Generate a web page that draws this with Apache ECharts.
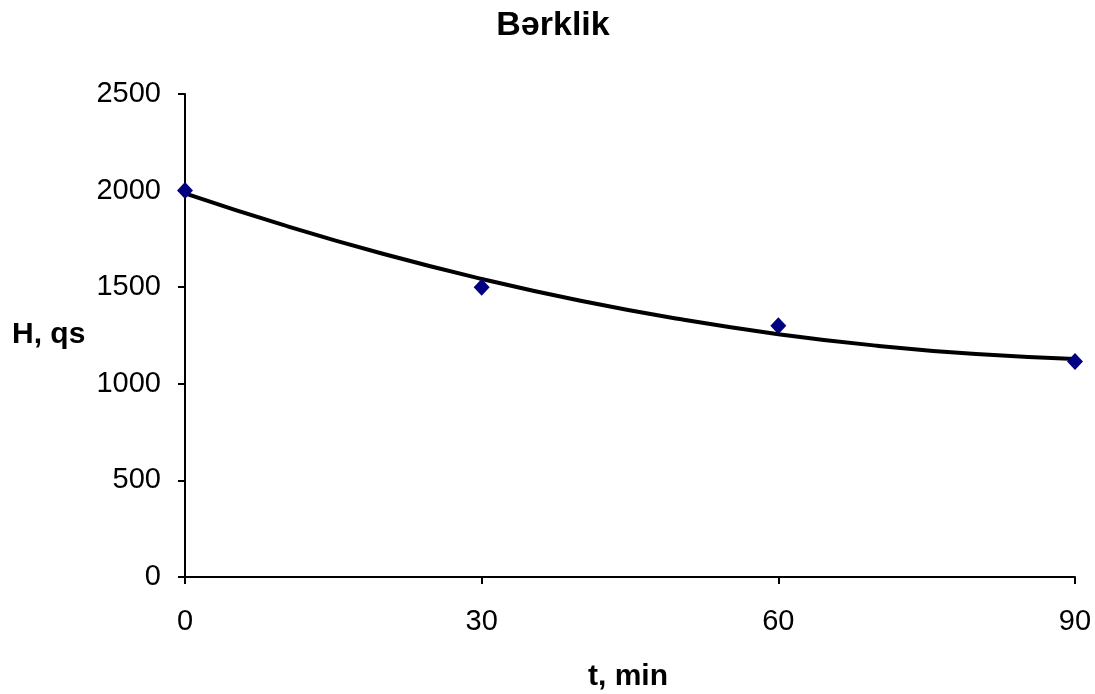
<!DOCTYPE html>
<html>
<head>
<meta charset="utf-8">
<script src="https://cdn.jsdelivr.net/npm/echarts@6/dist/echarts.min.js"></script>
<style>
html,body{margin:0;padding:0;background:#fff;}
#chart{width:1095px;height:694px;}
</style>
</head>
<body>
<div id="chart"></div>
<script>
const titleText = 'Bərklik';
const xLabel = 't, min';
const yLabel = 'H, qs';
const measuredT = [0, 30, 60, 90];
const measuredH = [2000, 1500, 1300, 1115];
const trendT = [0, 10, 20, 30, 40, 50, 60, 70, 80, 90];
const trendH = [1986, 1821, 1673, 1543, 1430, 1335, 1257, 1197, 1154, 1129];
const yTicks = [0, 500, 1000, 1500, 2000, 2500];
const xTicks = [0, 30, 60, 90];

const chart = echarts.init(document.getElementById('chart'));
const font = '"Liberation Sans", Arial, sans-serif';
chart.setOption({
  animation: false,
  backgroundColor: '#fff',
  grid: {left: 185, right: 20, top: 94, bottom: 117},
  xAxis: {
    type: 'value', min: 0, max: 90, interval: 30,
    axisLine: {show: true, lineStyle: {color: '#000', width: 2}},
    axisTick: {show: true, inside: false, length: 7, lineStyle: {color: '#000', width: 2}},
    axisLabel: {fontFamily: font, fontSize: 29, color: '#000', margin: 30,
      formatter: v => xTicks.includes(v) ? String(v) : ''},
    splitLine: {show: false}
  },
  yAxis: {
    type: 'value', min: 0, max: 2500, interval: 500,
    axisLine: {show: true, lineStyle: {color: '#000', width: 2}},
    axisTick: {show: true, inside: false, length: 7, lineStyle: {color: '#000', width: 2}},
    axisLabel: {fontFamily: font, fontSize: 29, color: '#000', margin: 24,
      formatter: v => yTicks.includes(v) ? String(v) : ''},
    splitLine: {show: false}
  },
  graphic: [
    {
      type: 'text', x: 553, y: 26,
      style: {text: titleText, font: 'bold 34px ' + font, fill: '#000',
        textAlign: 'center', textVerticalAlign: 'middle'}
    },
    {
      type: 'text', x: 12, y: 335,
      style: {text: yLabel, font: 'bold 30px ' + font, fill: '#000',
        textAlign: 'left', textVerticalAlign: 'middle'}
    },
    {
      type: 'text', x: 628, y: 677,
      style: {text: xLabel, font: 'bold 30px ' + font, fill: '#000',
        textAlign: 'center', textVerticalAlign: 'middle'}
    }
  ],
  series: [
    {
      type: 'line', data: trendT.map((t, i) => [t, trendH[i]]),
      smooth: true, showSymbol: false, symbol: 'none',
      lineStyle: {color: '#000', width: 4}, z: 2
    },
    {
      type: 'scatter', data: measuredT.map((t, i) => [t, measuredH[i]]),
      symbol: 'diamond', symbolSize: [16, 17],
      itemStyle: {color: '#000080', opacity: 1}, z: 3
    }
  ]
});
</script>
</body>
</html>
